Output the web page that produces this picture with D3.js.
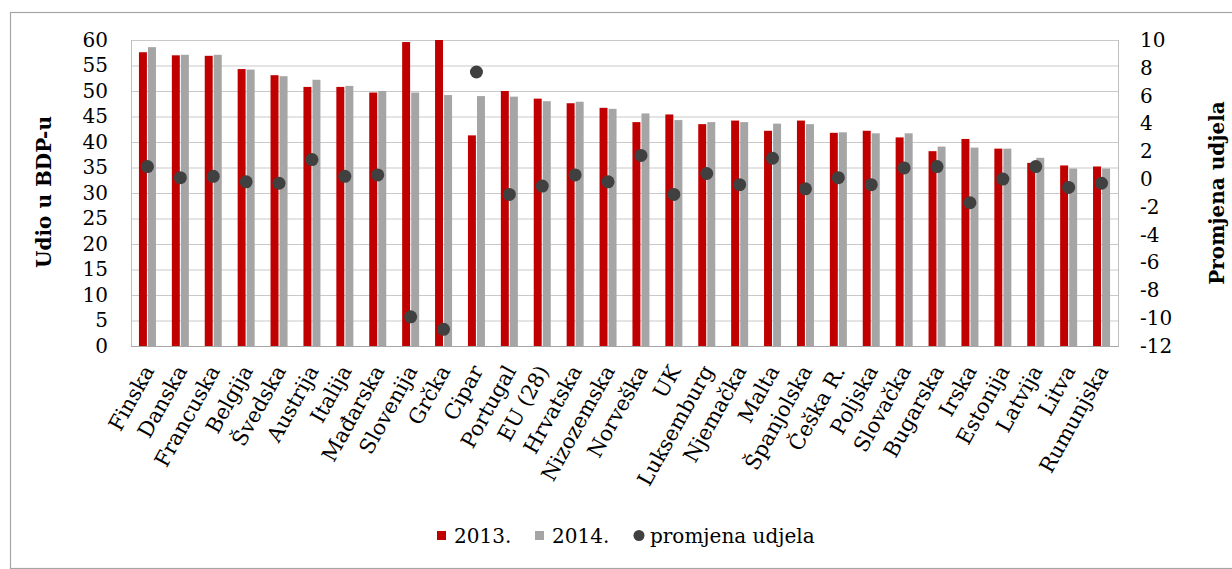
<!DOCTYPE html>
<html><head><meta charset="utf-8">
<script src="https://cdn.jsdelivr.net/npm/d3@7"></script>
<style>
html,body{margin:0;padding:0;background:#fff;}
svg{display:block;font-family:"DejaVu Serif",serif;}
</style></head>
<body>
<script>
const categories = ["Finska","Danska","Francuska","Belgija","Švedska","Austrija","Italija","Mađarska","Slovenija","Grčka","Cipar","Portugal","EU (28)","Hrvatska","Nizozemska","Norveška","UK","Luksemburg","Njemačka","Malta","Španjolska","Češka R.","Poljska","Slovačka","Bugarska","Irska","Estonija","Latvija","Litva","Rumunjska"];
const values2013 = [57.6,57.0,56.9,54.3,53.1,50.8,50.8,49.7,59.6,60.1,41.3,50.0,48.5,47.6,46.7,43.9,45.4,43.5,44.2,42.2,44.2,41.8,42.2,40.9,38.2,40.6,38.7,35.9,35.4,35.2];
const values2014 = [58.6,57.1,57.1,54.2,52.9,52.2,51.0,50.0,49.7,49.2,49.0,48.9,48.0,47.9,46.5,45.6,44.3,43.9,43.9,43.6,43.5,41.9,41.7,41.7,39.1,38.9,38.7,36.9,34.8,34.8];
const change = [0.9,0.1,0.2,-0.2,-0.3,1.4,0.2,0.3,-9.9,-10.8,7.7,-1.1,-0.5,0.3,-0.2,1.7,-1.1,0.4,-0.4,1.5,-0.7,0.1,-0.4,0.8,0.9,-1.7,0.0,0.9,-0.6,-0.3];
const leftTicks = [0,5,10,15,20,25,30,35,40,45,50,55,60];
const rightTicks = [-12,-10,-8,-6,-4,-2,0,2,4,6,8,10];
const seriesNames = ["2013.","2014.","promjena udjela"];
const colors = ["#C00000","#A5A5A5","#404040"];

const W=1232,H=569;
const L=131,R=1118,T=40,B=346;
const svg=d3.select("body").append("svg").attr("width",W).attr("height",H);

// outer frame
svg.append("rect").attr("x",10.5).attr("y",12.5).attr("width",1240).attr("height",556)
  .attr("fill","none").attr("stroke","#a6a6a6").attr("stroke-width",1.2);

const x=d3.scaleBand().domain(categories).range([L,R]).paddingInner(0.483).paddingOuter(0.2415);
const x1=d3.scaleBand().domain(["a","b"]).range([0,x.bandwidth()]).paddingInner(0.12);
const yL=d3.scaleLinear().domain([0,60]).range([B,T]);
const yR=d3.scaleLinear().domain([-12,10]).range([B,T]);

// gridlines
svg.append("g").selectAll("line").data(leftTicks).join("line")
  .attr("x1",L).attr("x2",R).attr("y1",d=>yL(d)+0.5).attr("y2",d=>yL(d)+0.5)
  .attr("stroke","#c9c9c9").attr("stroke-width",1.2);
svg.append("line").attr("x1",L+0.5).attr("x2",L+0.5).attr("y1",T).attr("y2",B).attr("stroke","#bfbfbf");
svg.append("line").attr("x1",R+0.5).attr("x2",R+0.5).attr("y1",T).attr("y2",B).attr("stroke","#bfbfbf");

svg.append("defs").append("clipPath").attr("id","clip").append("rect")
  .attr("x",L).attr("y",T).attr("width",R-L).attr("height",B-T);

const bars=svg.append("g").attr("clip-path","url(#clip)");
bars.selectAll("rect.a").data(categories).join("rect").attr("class","a")
  .attr("x",d=>x(d)+x1("a")).attr("width",x1.bandwidth())
  .attr("y",(d,i)=>yL(values2013[i])).attr("height",(d,i)=>B-yL(values2013[i]))
  .attr("fill",colors[0]);
bars.selectAll("rect.b").data(categories).join("rect").attr("class","b")
  .attr("x",d=>x(d)+x1("b")).attr("width",x1.bandwidth())
  .attr("y",(d,i)=>yL(values2014[i])).attr("height",(d,i)=>B-yL(values2014[i]))
  .attr("fill",colors[1]);

// bottom axis line
svg.append("line").attr("x1",L).attr("x2",R+1).attr("y1",B+0.5).attr("y2",B+0.5).attr("stroke","#a6a6a6").attr("stroke-width",1.2);

// dots
svg.append("g").selectAll("circle").data(categories).join("circle")
  .attr("cx",d=>x(d)+x.bandwidth()/2).attr("cy",(d,i)=>yR(change[i])).attr("r",6.5)
  .attr("fill",colors[2]);

// left axis
const axL=svg.append("g").attr("transform",`translate(${L},0)`)
  .call(d3.axisLeft(yL).tickValues(leftTicks).tickFormat(d=>String(d)).tickSize(0).tickPadding(23));
axL.select(".domain").remove();
axL.selectAll("text").attr("font-family","DejaVu Serif").attr("font-size",20).attr("fill","#000");

const axR=svg.append("g").attr("transform",`translate(${R},0)`)
  .call(d3.axisRight(yR).tickValues(rightTicks).tickFormat(d=>String(d)).tickSize(0).tickPadding(22));
axR.select(".domain").remove();
axR.selectAll("text").attr("font-family","DejaVu Serif").attr("font-size",20).attr("fill","#000");

// category labels
svg.append("g").selectAll("text").data(categories).join("text")
  .attr("transform",d=>`translate(${x(d)+x.bandwidth()/2+1},${B+21}) rotate(-61)`)
  .attr("text-anchor","end").attr("dy","0.35em")
  .attr("font-size",21).text(d=>d);

// axis titles
svg.append("text").attr("transform",`translate(44,192) rotate(-90)`).attr("text-anchor","middle")
  .attr("dy","0.35em").attr("font-size",20).attr("font-weight","bold").text("Udio u BDP-u");
svg.append("text").attr("transform",`translate(1217,193) rotate(-90)`).attr("text-anchor","middle")
  .attr("dy","0.35em").attr("font-size",20).attr("font-weight","bold").text("Promjena udjela");

// legend
const lg=svg.append("g");
const legX=[437,535,633];
seriesNames.forEach((s,i)=>{
  if(i<2){
    lg.append("rect").attr("x",legX[i]).attr("y",531).attr("width",9).attr("height",9).attr("fill",colors[i]);
  } else {
    lg.append("circle").attr("cx",legX[i]+6).attr("cy",535.5).attr("r",5.5).attr("fill",colors[i]);
  }
  lg.append("text").attr("x",legX[i]+17).attr("y",535.5).attr("dy","0.35em")
    .attr("font-size",20).text(s);
});
</script>
</body></html>
